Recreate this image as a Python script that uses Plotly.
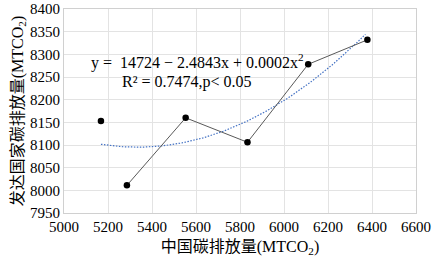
import numpy as np
import plotly.graph_objects as go

china = [5168, 5286, 5553, 5834, 6110, 6379]
developed = [8153, 8011, 8160, 8106, 8278, 8332]

x_ticks = [5000, 5200, 5400, 5600, 5800, 6000, 6200, 6400, 6600]
y_ticks = [7950, 8000, 8050, 8100, 8150, 8200, 8250, 8300, 8350, 8400]

coef = np.polyfit(china, developed, 2)
xf = np.linspace(min(china), 6370, 120)
yf = np.polyval(coef, xf)

font_fam = "Liberation Serif, Noto Sans CJK SC, serif"

fig = go.Figure()
fig.add_trace(go.Scatter(x=xf, y=yf, mode="lines",
                         line=dict(color="#4472c4", width=1.2, dash="1.5px,1.5px"),
                         showlegend=False, hoverinfo="skip"))
fig.add_trace(go.Scatter(x=china[1:], y=developed[1:], mode="lines",
                         line=dict(color="#595959", width=1), showlegend=False))
fig.add_trace(go.Scatter(x=china, y=developed, mode="markers",
                         marker=dict(color="black", size=6.5), showlegend=False))

fig.add_annotation(x=5115, y=8285, xref="x", yref="y", xanchor="left", yanchor="middle",
                   text="y =  14724 − 2.4843x + 0.0002x<sup>2</sup>", showarrow=False,
                   font=dict(family=font_fam, size=16, color="black"))
fig.add_annotation(x=5255, y=8238, xref="x", yref="y", xanchor="left", yanchor="middle",
                   text="R² = 0.7474,p< 0.05", showarrow=False,
                   font=dict(family=font_fam, size=16, color="black"))

fig.update_layout(
    width=439, height=263,
    margin=dict(l=64, r=23, t=9, b=50),
    paper_bgcolor="white", plot_bgcolor="white",
    font=dict(family=font_fam, size=15, color="black"),
    xaxis=dict(range=[5000, 6600], tickvals=x_ticks, showgrid=True, gridcolor="#e3e3e3",
               zeroline=False, showline=True, linecolor="#d0d0d0", mirror=True,
               ticks="", tickfont=dict(size=15), automargin=False,
               title=dict(text="中国碳排放量(MTCO<sub>2</sub>)", font=dict(size=16), standoff=6)),
    yaxis=dict(range=[7950, 8400], tickvals=y_ticks, showgrid=True, gridcolor="#e3e3e3",
               zeroline=False, showline=True, linecolor="#d0d0d0", mirror=True,
               ticks="", tickfont=dict(size=15), automargin=False,
               title=dict(text="发达国家碳排放量(MTCO<sub>2</sub>)", font=dict(size=16), standoff=2)),
)

fig.write_html("out.html", config={"displayModeBar": False},
               post_script="document.body.style.margin='0';")
